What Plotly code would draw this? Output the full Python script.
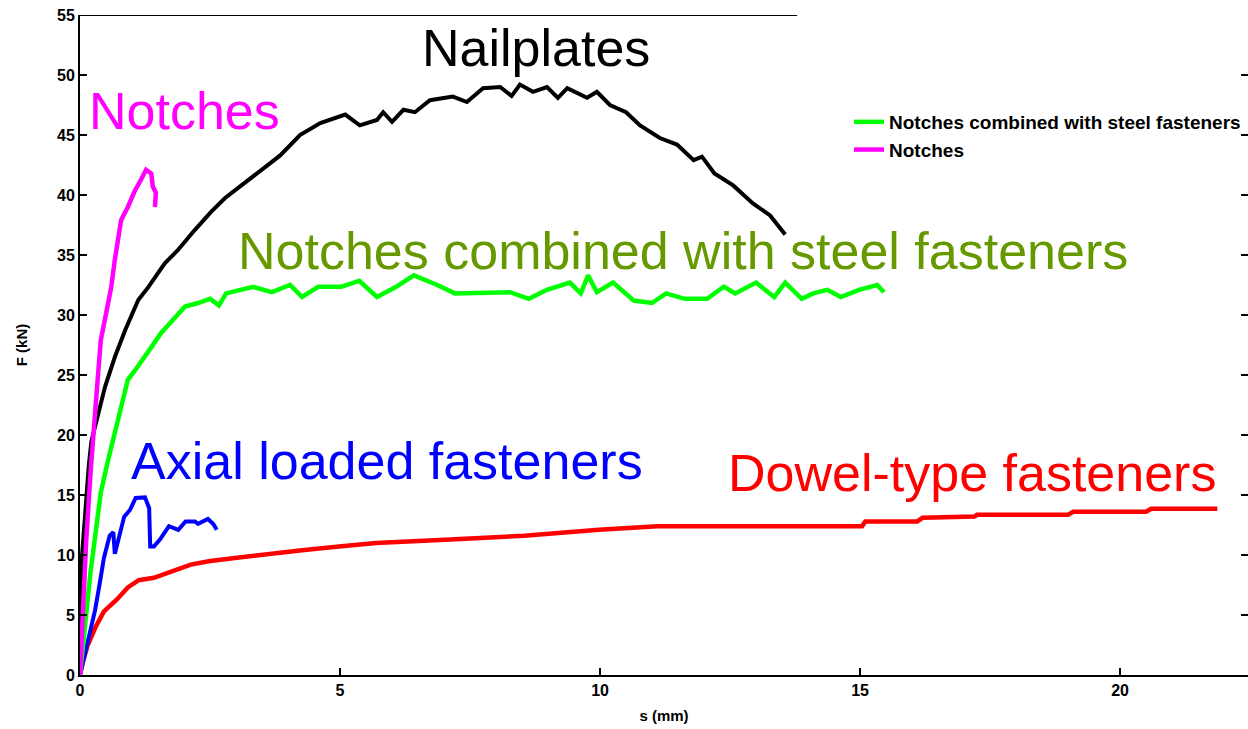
import plotly.graph_objects as go

# Displacement s (mm) and load F (kN) for each connection type
nail_s = [0, 0.01, 0.04, 0.10, 0.17, 0.22, 0.35, 0.48, 0.67, 0.87, 1.12, 1.31, 1.63, 1.88,
          2.21, 2.52, 2.79, 3.10, 3.46, 3.85, 4.23, 4.62, 5.10, 5.38, 5.71, 5.83, 6.00,
          6.22, 6.44, 6.73, 7.17, 7.44, 7.75, 8.08, 8.30, 8.46, 8.71, 8.98, 9.19, 9.37,
          9.75, 9.94, 10.19, 10.50, 10.77, 11.15, 11.48, 11.80, 11.96, 12.20, 12.56,
          12.94, 13.27, 13.56]
nail_F = [0, 5, 10, 14, 17.5, 19.5, 21.8, 24, 26.5, 28.75, 31.25, 32.3, 34.3, 35.4,
          37.1, 38.6, 39.75, 40.8, 42, 43.3, 45.0, 46, 46.7, 45.8, 46.25, 46.9, 46.1,
          47.1, 46.9, 47.9, 48.2, 47.75, 48.9, 49, 48.25, 49.2, 48.6, 49, 48.1, 48.9,
          48.1, 48.6, 47.5, 46.9, 45.8, 44.75, 44.2, 42.9, 43.2, 41.8, 40.8,
          39.3, 38.3, 36.7]

notch_s = [0, 0.03, 0.07, 0.12, 0.21, 0.29, 0.35, 0.40, 0.50, 0.60, 0.67, 0.79, 0.92,
           1.06, 1.17, 1.27, 1.37, 1.40, 1.46, 1.44]
notch_F = [0, 3, 7, 11.25, 17.3, 21.25, 25.2, 27.9, 30.2, 32.3, 34.6, 37.9, 39,
           40.4, 41.25, 42.1, 41.8, 40.7, 40.2, 39]

steel_s = [0, 0.10, 0.20, 0.29, 0.40, 0.54, 0.67, 0.79, 0.92, 1.06, 1.25, 1.37, 1.56,
           1.83, 2.02, 2.27, 2.50, 2.67, 2.81, 3.33, 3.69, 4.04, 4.27, 4.58, 5.02, 5.37,
           5.71, 6.08, 6.42, 6.87, 7.21, 8.27, 8.63, 8.98, 9.42, 9.63, 9.77, 9.94, 10.25,
           10.65, 11.00, 11.27, 11.63, 12.06, 12.38, 12.60, 13.00, 13.35, 13.56, 13.88,
           14.10, 14.37, 14.63, 14.98, 15.33, 15.46]
steel_F = [0, 4.5, 8.5, 11.5, 15.2, 17.9, 20.2, 22.3, 24.6, 25.4, 26.5, 27.3, 28.5,
           29.8, 30.7, 31.0, 31.35, 30.8, 31.8, 32.35, 31.9, 32.5, 31.5, 32.35, 32.35, 32.85,
           31.5, 32.35, 33.3, 32.5, 31.8, 31.9, 31.35, 32.1, 32.7, 31.8, 33.3, 31.9, 32.7,
           31.2, 31.0, 31.8, 31.35, 31.35, 32.35, 31.8, 32.7, 31.5, 32.7, 31.35,
           31.8, 32.1, 31.5, 32.1, 32.5, 31.9]

axial_s = [0, 0.08, 0.17, 0.29, 0.39, 0.46, 0.57, 0.64, 0.67, 0.79, 0.85, 0.96, 1.07,
           1.25, 1.33, 1.35, 1.42, 1.54, 1.71, 1.89, 2.03, 2.21, 2.27, 2.46, 2.56, 2.63]
axial_F = [0, 1.5, 3.2, 5.4, 7.9, 9.75, 11.6, 11.9, 10.1, 12.25, 13.2, 13.75, 14.75,
           14.8, 13.9, 10.7, 10.7, 11.3, 12.4, 12.1, 12.8, 12.8, 12.6, 13, 12.6, 12.1]

dowel_s = [0, 0.05, 0.15, 0.30, 0.46, 0.71, 0.92, 1.13, 1.42, 1.79, 2.13, 2.50, 3.00,
           3.56, 4.27, 4.98, 5.69, 7.12, 8.54, 9.98, 11.10, 13.00, 15.04, 15.10, 16.10,
           16.20, 17.20, 17.25, 19.00, 19.10, 20.50, 20.60, 21.87]
dowel_F = [0, 1, 2.5, 4, 5.3, 6.3, 7.3, 7.9, 8.1, 8.7, 9.2, 9.5, 9.75,
           10.1, 10.4, 10.7, 11, 11.3, 11.6, 12.1, 12.4, 12.4, 12.4, 12.8, 12.8,
           13.1, 13.2, 13.35, 13.35, 13.6, 13.6, 13.85, 13.85]

x_ticks = [0, 5, 10, 15, 20]
y_ticks = [0, 5, 10, 15, 20, 25, 30, 35, 40, 45, 50, 55]

# Large in-plot labels: (text, s, F, colour)
labels = [
    ("Nailplates", 8.77, 52.25, "#000000"),
    ("Notches", 2.01, 46.96, "#FF00FF"),
    ("Notches combined with steel fasteners", 11.59, 35.33, "#669900"),
    ("Axial loaded fasteners", 5.9, 17.83, "#0000FF"),
    ("Dowel-type fasteners", 17.15, 16.83, "#FF0000"),
]

fig = go.Figure()
fig.add_trace(go.Scatter(x=dowel_s, y=dowel_F, mode="lines", name="Dowel-type fasteners",
                         line=dict(color="#FF0000", width=4.5), showlegend=False))
fig.add_trace(go.Scatter(x=axial_s, y=axial_F, mode="lines", name="Axial loaded fasteners",
                         line=dict(color="#0000FF", width=4), showlegend=False))
fig.add_trace(go.Scatter(x=nail_s, y=nail_F, mode="lines", name="Nailplates",
                         line=dict(color="#000000", width=4), showlegend=False))
fig.add_trace(go.Scatter(x=steel_s, y=steel_F, mode="lines",
                         name="Notches combined with steel fasteners",
                         line=dict(color="#00FF00", width=4.5)))
fig.add_trace(go.Scatter(x=notch_s, y=notch_F, mode="lines", name="Notches",
                         line=dict(color="#FF00FF", width=4.5)))
# Invisible trace that carries the right-hand tick axis
fig.add_trace(go.Scatter(x=[0], y=[0], yaxis="y2", mode="lines", showlegend=False,
                         hoverinfo="skip", line=dict(width=0)))

for text, sx, fy, col in labels:
    fig.add_annotation(x=sx, y=fy, xref="x", yref="y", text=text, showarrow=False,
                       xanchor="center", yanchor="middle",
                       font=dict(family="Liberation Sans, Arial", size=52, color=col))

# Upper frame line (partial)
fig.add_shape(type="line", xref="x", yref="y", x0=0, x1=13.79, y0=55, y1=55,
              line=dict(color="black", width=2))

tick_font = dict(family="Liberation Sans, Arial", size=16, color="black", weight="bold")
title_font = dict(family="Liberation Sans, Arial", size=15, color="black", weight="bold")

fig.update_layout(
    width=1248, height=729,
    margin=dict(l=80, r=0, t=15, b=54),
    plot_bgcolor="white", paper_bgcolor="white",
    legend=dict(x=(849 - 80) / 1168, y=1 - (103 - 15) / 660, xanchor="left", yanchor="top",
                bgcolor="rgba(0,0,0,0)", tracegroupgap=0, itemwidth=30,
                font=dict(family="Liberation Sans, Arial", size=19, color="black",
                          weight="bold")),
    xaxis=dict(range=[0, 22.46], tickvals=x_ticks, ticks="inside", ticklen=7, tickwidth=2,
               tickcolor="black", showline=True, linecolor="black", linewidth=2,
               showgrid=False, zeroline=False, tickfont=tick_font,
               title=dict(text="s (mm)", font=title_font, standoff=12)),
    yaxis=dict(range=[0, 55], tickvals=y_ticks, ticks="inside", ticklen=7, tickwidth=2,
               tickcolor="black", showline=True, linecolor="black", linewidth=2,
               showgrid=False, zeroline=False, tickfont=tick_font,
               title=dict(text="F (kN)", font=title_font, standoff=26)),
    yaxis2=dict(range=[0, 55], tickvals=y_ticks, ticks="inside", ticklen=7, tickwidth=2,
                tickcolor="black", overlaying="y", side="right", showline=False,
                showticklabels=False, showgrid=False, zeroline=False),
)

fig.write_html("out.html")
